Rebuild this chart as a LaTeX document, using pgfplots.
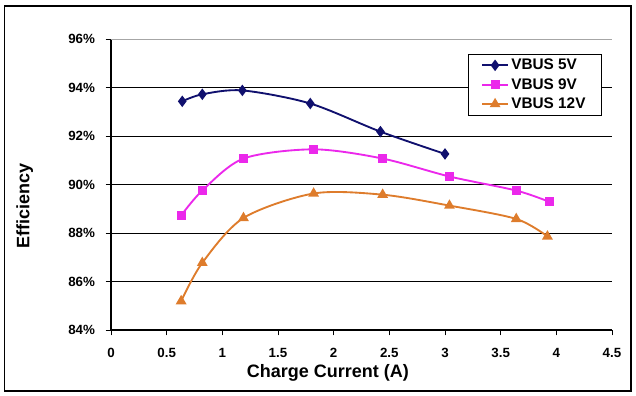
\documentclass[border=0pt]{standalone}
\usepackage{fontspec}
\setmainfont{Liberation Sans}
\usepackage{pgfplots}
\pgfplotsset{compat=1.18}
\definecolor{cnavy}{RGB}{16,16,110}
\definecolor{cmag}{RGB}{235,40,235}
\definecolor{corange}{RGB}{222,124,44}
\begin{document}
\begin{tikzpicture}
\useasboundingbox (0,0) rectangle (477pt,297pt);
\draw[line width=1.3pt] (3.4pt,3.8pt) rectangle (473.3pt,292.6pt);
\begin{axis}[
  at={(83.25pt,49.5pt)}, anchor=south west,
  scale only axis, width=375.75pt, height=218.25pt,
  xmin=0, xmax=4.5, ymin=84, ymax=96,
  xtick={0,0.5,...,4.5},
  ytick={84,86,...,96},
  axis lines*=left,
  axis line style={-, black, line width=0.8pt},
  tick style={black, line width=0.6pt},
  tick align=outside,
  major tick length=4pt,
  ymajorgrids,
  grid style={black, line width=0.7pt},
  /pgf/number format/assume math mode=true,
  tick label style={font=\bfseries\fontsize{10}{11}\selectfont},
  yticklabel={\pgfmathprintnumber{\tick}\%},
  yticklabel style={xshift=-4.5pt},
  xticklabel style={yshift=-6pt},
  xlabel={Charge Current (A)},
  ylabel={Efficiency},
  label style={font=\bfseries\fontsize{13.5}{15}\selectfont},
  xlabel style={at={(axis description cs:0.433,-0.147)}, anchor=center},
  ylabel style={at={(axis description cs:-0.172,0.425)}, anchor=center},
  legend style={at={(axis description cs:0.98,0.949)}, anchor=north east,
    draw=black, line width=0.7pt, font=\bfseries\fontsize{11.5}{13}\selectfont,
    inner xsep=10pt, inner ysep=1.5pt, row sep=1pt},
  legend cell align=left,
  legend image code/.code={\draw[mark repeat=2,mark phase=2] plot coordinates {(0pt,0pt) (9.5pt,0pt) (19pt,0pt)};},
]
\draw[gray!70, line width=0.7pt] (rel axis cs:0,1) -- (rel axis cs:1,1) -- (rel axis cs:1,0);
\addplot[cnavy, line width=1.4pt, smooth, mark=diamond*, mark size=3.2pt, mark options={solid, fill=cnavy}]
  coordinates {(0.64,93.43) (0.82,93.72) (1.18,93.88) (1.79,93.34) (2.42,92.18) (3.00,91.26)};
\addlegendentry{VBUS 5V}
\addplot[cmag, line width=1.4pt, smooth, mark=square*, mark size=2.7pt, mark options={solid, fill=cmag}]
  coordinates {(0.63,88.72) (0.82,89.75) (1.19,91.07) (1.82,91.45) (2.44,91.07) (3.04,90.33) (3.64,89.75) (3.94,89.28)};
\addlegendentry{VBUS 9V}
\addplot[corange, line width=1.4pt, smooth, mark=triangle*, mark size=3.3pt, mark options={solid, fill=corange}]
  coordinates {(0.63,85.19) (0.82,86.77) (1.19,88.62) (1.82,89.63) (2.44,89.58) (3.04,89.13) (3.64,88.58) (3.92,87.86)};
\addlegendentry{VBUS 12V}
\end{axis}
\end{tikzpicture}
\end{document}
